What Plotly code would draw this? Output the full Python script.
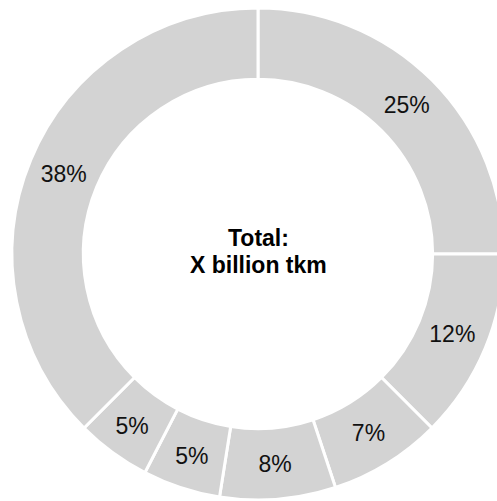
import plotly.graph_objects as go

# Share of each segment (%), clockwise from 12 o'clock
segments = ["A", "B", "C", "D", "E", "F", "G"]
shares = [25.0, 12.5, 7.4, 7.6, 5.1, 4.9, 37.5]
share_labels = [f"{v:.0f}%" for v in shares]

center_lines = ["Total:", "X billion tkm"]

FONT = "Helvetica, Arial, 'Liberation Sans', sans-serif"

fig = go.Figure(
    go.Pie(
        labels=segments,
        values=shares,
        text=share_labels,
        textinfo="text",
        textposition="inside",
        insidetextorientation="horizontal",
        hole=0.71,
        sort=False,
        direction="clockwise",
        rotation=0,
        marker=dict(colors=["#d3d3d3"] * len(shares), line=dict(color="white", width=3)),
        textfont=dict(family=FONT, size=23, color="#111111"),
        showlegend=False,
        hoverinfo="label+percent",
    )
)

# Two-line caption in the hole, with a tighter line pitch than <br> gives
for line, shift in zip(center_lines, [16, -11]):
    fig.add_annotation(
        x=0.5, y=0.5, xref="paper", yref="paper",
        text=f"<b>{line}</b>", showarrow=False, yshift=shift,
        font=dict(family=FONT, size=23, color="#000000"),
    )

fig.update_layout(
    width=504, height=501, autosize=False,
    margin=dict(l=12, r=0, t=8, b=1),
    paper_bgcolor="white", plot_bgcolor="white",
)

fig.write_html("out.html")
